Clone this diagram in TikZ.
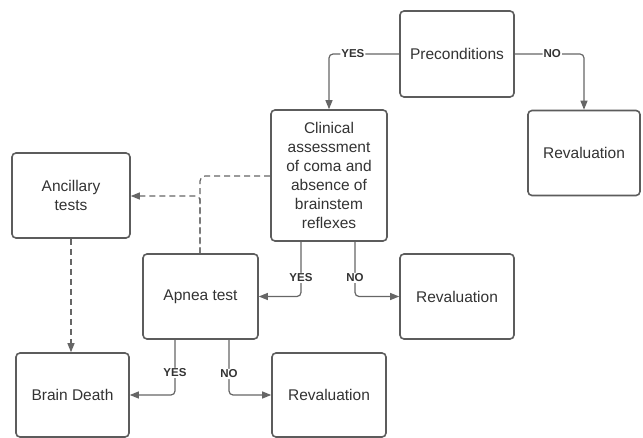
\documentclass[tikz,border=0pt]{standalone}
\usepackage{fontspec}
\setmainfont{Liberation Sans}
\usetikzlibrary{arrows.meta}
\definecolor{boxline}{HTML}{5C5C5C}
\definecolor{conline}{HTML}{666666}
\definecolor{txt}{HTML}{333333}
\begin{document}
\begin{tikzpicture}[x=1pt,y=-1pt,
  box/.style={draw=boxline,line width=1.6pt,rounded corners=4pt,fill=white,
    text=txt,font=\fontsize{15.5}{19}\selectfont,align=center,inner sep=0pt},
  conn/.style={draw=conline,line width=1.2pt,rounded corners=4pt,
    -{Triangle[length=9pt,width=7pt]}},
  dconn/.style={conn,dashed,dash pattern=on 6pt off 4pt},
  lbl/.style={fill=white,text=txt,font=\fontsize{11.5}{13}\selectfont\bfseries,inner sep=1pt}]
\useasboundingbox (0,0) rectangle (643,438);
\node[box,minimum width=114pt,minimum height=86pt] (pre) at (457,54) {Preconditions};
\node[box,minimum width=112pt,minimum height=85pt] (rev1) at (584,153) {Revaluation};
\node[box,minimum width=116pt,minimum height=131pt] (clin) at (329,175.5) {Clinical\\assessment\\of coma and\\absence of\\brainstem\\reflexes};
\node[box,minimum width=118pt,minimum height=85pt] (anc) at (71,195.5) {Ancillary\\tests};
\node[box,minimum width=115pt,minimum height=85pt] (apn) at (200.5,296.5) {Apnea test};
\node[box,minimum width=114pt,minimum height=85pt] (rev2) at (457,296.5) {Revaluation};
\node[box,minimum width=113pt,minimum height=84pt] (bd) at (72.5,395) {Brain Death};
\node[box,minimum width=114pt,minimum height=84pt] (rev3) at (329,395) {Revaluation};

\draw[conn] (pre.west) -| node[lbl,pos=0.33] {YES} (clin.north);
\draw[conn] (pre.east) -| node[lbl,pos=0.27] {NO} (rev1.north);
\draw[conn] (clin.south -| 301,0) |- node[lbl,pos=0.33] {YES} (apn.east);
\draw[conn] (clin.south -| 355,0) |- node[lbl,pos=0.33] {NO} (rev2.west);
\draw[conn] (apn.south -| 175,0) |- node[lbl,pos=0.3] {YES} (bd.east);
\draw[conn] (apn.south -| 229,0) |- node[lbl,pos=0.31] {NO} (rev3.west);

\coordinate (dj) at (200,176);
\draw[draw=conline,line width=1.2pt,dashed,dash pattern=on 6pt off 4pt,rounded corners=5pt]
  (clin.west |- dj) -- (dj) -- (apn.north -| dj);
\draw[dconn] (apn.north -| dj) |- (anc.east |- 0,196);
\draw[dconn] (anc.south) -- (bd.north -| anc.south);
\end{tikzpicture}
\end{document}
